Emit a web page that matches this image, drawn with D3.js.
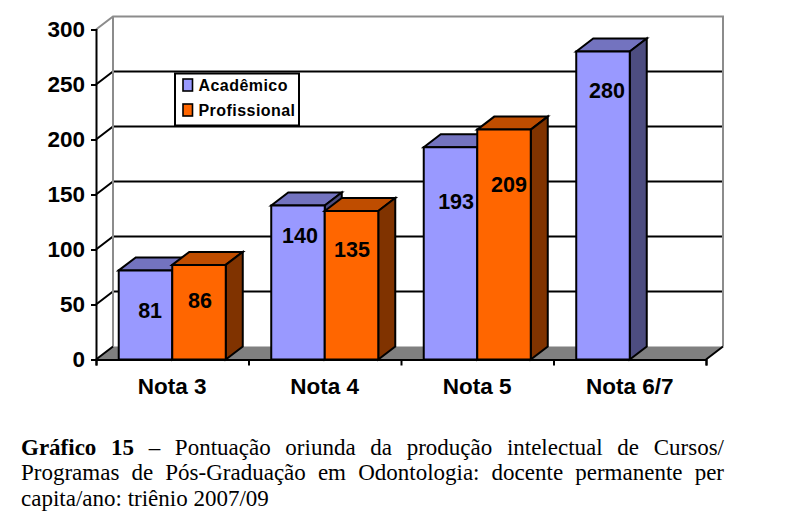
<!DOCTYPE html>
<html><head><meta charset="utf-8">
<script src="https://cdn.jsdelivr.net/npm/d3@7"></script>
<style>html,body{margin:0;background:#fff}svg{display:block}</style></head>
<body><svg id="c" width="803" height="526"></svg>
<script>
const categories = ["Nota 3","Nota 4","Nota 5","Nota 6/7"];
const seriesNames = ["Acadêmico","Profissional"];
const academico = [81,140,193,280];
const profissional = [86,135,209,null];
const yTicks = [0,50,100,150,200,250,300];
const captionLines = [
  [["Gráfico 15",true],[" – Pontuação oriunda da produção intelectual de Cursos/",false]],
  [["Programas de Pós-Graduação em Odontologia: docente permanente per",false]],
  [["capita/ano: triênio 2007/09",false]]
];
// hand placement of the value labels in the reference
const labelDrop = {Acadêmico:[40,29,54,38],Profissional:[35,38,54,0]};
const labelShift = {Acadêmico:[4.6,2,5.6,4],Profissional:[1,0.5,5,0]};

const colors = {
  Acadêmico:{front:"#9999ff",top:"#7373bf",side:"#4d4d80"},
  Profissional:{front:"#ff6600",top:"#bf4d00",side:"#803300"}
};
const dx=17, dy=13, font="'Liberation Sans',Arial,sans-serif";
const svg=d3.select("#c");
const y=d3.scaleLinear().domain([0,300]).range([359.5,29.5]);
const x0=d3.scaleBand().domain(categories).range([96,706]);
const x1=d3.scaleBand().domain(seriesNames).range([0,x0.bandwidth()]).paddingInner(0).paddingOuter(0.425);
const [xl,xr]=x0.range(), y0=y(0), yt=y(300);
const poly=(p,f,s,w)=>svg.append("polygon").attr("points",p.map(d=>d.join(",")).join(" "))
  .attr("fill",f).attr("stroke",s||"none").attr("stroke-width",w||0).attr("stroke-linejoin","miter");

// floor
poly([[xl,y0],[xl+dx,y0-dy],[xr+dx,y0-dy],[xr,y0]],"#808080");
// gridlines on walls
yTicks.filter(v=>v>0&&v<300).forEach(v=>{
  svg.append("path").attr("fill","none").attr("stroke","#000").attr("stroke-width",2)
    .attr("d",`M${xl},${y(v)}L${xl+dx},${y(v)-dy}L${xr+dx},${y(v)-dy}`);
});
// wall frame
svg.append("path").attr("fill","none").attr("stroke","#8c8c8c").attr("stroke-width",2)
  .attr("d",`M${xl},${yt}L${xl+dx},${yt-dy}L${xr+dx},${yt-dy}L${xr+dx},${y0-dy}M${xl+dx},${yt-dy}L${xl+dx},${y0-dy}`);
svg.append("path").attr("fill","none").attr("stroke","#000").attr("stroke-width",2)
  .attr("d",`M${xl},${y0}L${xl+dx},${y0-dy}M${xr},${y0}L${xr+dx},${y0-dy}`);

// bars
const series=[["Acadêmico",academico],["Profissional",profissional]];
categories.forEach((c,i)=>{
  series.forEach(([name,vals])=>{
    const v=vals[i]; if(v==null) return;
    const a=x0(c)+x1(name), b=a+x1.bandwidth(), t=y(v), col=colors[name];
    poly([[a,t],[a+dx,t-dy],[b+dx,t-dy],[b,t]],col.top,"#000",2);
    poly([[b,t],[b+dx,t-dy],[b+dx,y0-dy],[b,y0]],col.side,"#000",2);
    poly([[a,t],[b,t],[b,y0],[a,y0]],col.front,"#000",2);
  });
});
// value labels
categories.forEach((c,i)=>{
  series.forEach(([name,vals])=>{
    const v=vals[i]; if(v==null) return;
    svg.append("text").attr("x",x0(c)+x1(name)+x1.bandwidth()/2+labelShift[name][i]).attr("y",y(v)+labelDrop[name][i]+8)
      .attr("text-anchor","middle").attr("font-family",font).attr("font-weight","bold")
      .attr("font-size",21.5).text(v);
  });
});

// axes
const ga=svg.append("g").attr("transform",`translate(${xl},0)`)
  .call(d3.axisLeft(y).tickValues(yTicks).tickSize(5).tickPadding(6).tickFormat(d3.format("d")));
const gb=svg.append("g").attr("transform",`translate(0,${y0})`)
  .call(d3.axisBottom(d3.scalePoint().domain(d3.range(categories.length+1)).range([xl,xr])).tickSize(6).tickFormat(""));
[ga,gb].forEach(g=>g.selectAll("path,line").attr("stroke","#000").attr("stroke-width",2));
ga.selectAll("text").attr("font-family",font).attr("font-weight","bold").attr("font-size",22.5).attr("fill","#000");
// category labels
svg.selectAll("text.cat").data(categories).join("text").attr("class","cat")
  .attr("x",d=>x0(d)+x0.bandwidth()/2).attr("y",393.5)
  .attr("text-anchor","middle").attr("font-family",font).attr("font-weight","bold")
  .attr("font-size",22.5).text(d=>d);

// legend
const lg=svg.append("g");
lg.append("rect").attr("x",175).attr("y",73.5).attr("width",124).attr("height",52).attr("fill","#fff").attr("stroke","#000").attr("stroke-width",2);
seriesNames.forEach((n,i)=>{
  const yy=85+i*25;
  lg.append("rect").attr("x",183).attr("y",yy-6).attr("width",9.5).attr("height",12).attr("fill",colors[n].front).attr("stroke","#000").attr("stroke-width",1.6);
  lg.append("text").attr("x",198.5).attr("y",yy+5.5).attr("font-family",font).attr("font-weight","bold")
    .attr("font-size",16).attr("letter-spacing",0.45).text(n);
});

// caption
const capX=21, capW=703, capY=[455,480,506];
captionLines.forEach((runs,i)=>{
  const t=svg.append("text").attr("x",capX).attr("y",capY[i]).attr("font-family","'Liberation Serif','Times New Roman',serif")
    .attr("font-size",23).attr("fill","#000").attr("xml:space","preserve").style("white-space","pre");
  runs.forEach(([s,b])=>t.append("tspan").attr("font-weight",b?"bold":"normal").text(s));
  if(i<2){
    const gaps=runs.map(r=>r[0]).join("").split(" ").length-1;
    const w=t.node().getComputedTextLength();
    t.attr("word-spacing",(capW-w)/gaps);
  }
});
</script></body></html>
